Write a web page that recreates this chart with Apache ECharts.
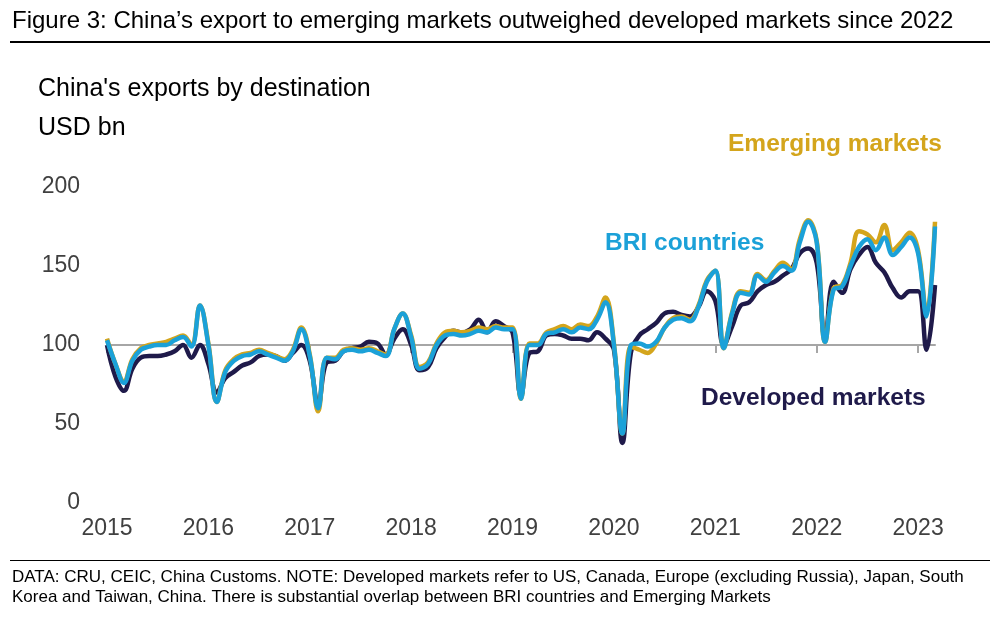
<!DOCTYPE html>
<html>
<head>
<meta charset="utf-8">
<script src="https://cdn.jsdelivr.net/npm/echarts@6/dist/echarts.min.js"></script>
<style>
  html, body { margin: 0; padding: 0; background: #fff; }
  #main { width: 1007px; height: 627px; }
</style>
</head>
<body>
<div id="main"></div>
<script>
// monthly, Jan 2015 .. Mar 2023, USD bn
var years = ['2015', '2016', '2017', '2018', '2019', '2020', '2021', '2022', '2023'];
var emerging = [
  104, 88, 77, 91, 98, 100, 101, 102, 104, 106, 100, 125,
  101, 64, 84, 91, 94, 95, 97, 95, 93, 91, 97, 111,
  94, 58, 92, 92, 97, 98, 97, 98, 96, 94, 110, 120,
  106, 86, 89, 101, 108, 109, 108, 109, 111, 110, 112, 111,
  111, 66, 101, 101, 108, 110, 112, 110, 113, 112, 118, 130,
  101, 44, 99, 97, 95, 101, 111, 117, 118, 116, 125, 141,
  147, 98, 121, 134, 133, 145, 141, 147, 152, 148, 167, 179,
  166, 102, 136, 138, 152, 172, 170, 165, 176, 160, 165, 171,
  160, 120, 178
];
var bri = [
  103, 88, 76, 90, 97, 99, 100, 100, 103, 105, 99, 125,
  100, 64, 83, 90, 93, 94, 96, 94, 92, 90, 96, 110,
  93, 60, 92, 91, 96, 97, 96, 97, 95, 93, 110, 120,
  105, 85, 88, 100, 106, 107, 106, 107, 109, 108, 111, 110,
  110, 66, 100, 100, 107, 108, 110, 108, 111, 110, 116, 127,
  100, 44, 100, 101, 99, 102, 111, 116, 117, 115, 124, 140,
  147, 98, 120, 133, 132, 144, 140, 146, 150, 147, 165, 178,
  165, 102, 135, 137, 150, 162, 167, 160, 168, 157, 162, 168,
  158, 118, 175
];
var developed = [
  100, 80, 71, 85, 92, 93, 93, 94, 96, 100, 92, 100,
  88, 70, 79, 83, 87, 89, 93, 94, 93, 90, 95, 100,
  90, 62, 89, 90, 96, 98, 99, 102, 101, 94, 104, 110,
  100, 84, 86, 98, 105, 109, 108, 110, 116, 108, 115, 112,
  108, 68, 95, 96, 106, 107, 106, 104, 104, 103, 108, 104,
  97, 38, 95, 106, 110, 114, 120, 121, 119, 118, 124, 134,
  128, 100, 112, 125, 127, 134, 138, 140, 144, 148, 158, 161,
  152, 104, 140, 133, 148, 157, 162, 152, 146, 136, 130, 134,
  134, 97, 138
];
var yTicks = [0, 50, 100, 150, 200];

var months = [];
for (var i = 0; i < bri.length; i++) {
  months.push(years[Math.floor(i / 12)] + '-' + (i % 12 + 1));
}

var font = 'Liberation Sans, Arial, sans-serif';
var chart = echarts.init(document.getElementById('main'));

function line(name, data, color, z) {
  return {
    name: name, type: 'line', data: data, smooth: 0.4, symbol: 'none', z: z,
    lineStyle: { color: color, width: 4.5 }
  };
}

chart.setOption({
  animation: false,
  textStyle: { fontFamily: font },
  grid: { left: 107, right: 72, top: 187, bottom: 124 },
  xAxis: [
    {
      type: 'category', data: months, boundaryGap: false,
      axisLine: { show: false }, axisTick: { show: false },
      axisLabel: {
        interval: function (i) { return i % 12 === 0; },
        formatter: function (v) { return v.split('-')[0]; },
        color: '#404040', fontSize: 23, margin: 14
      }
    },
    {
      type: 'category', data: months, boundaryGap: false, position: 'bottom', offset: -158,
      axisLine: { lineStyle: { color: '#a6a6a6', width: 2 } },
      axisTick: { interval: function (i) { return i % 12 === 0; }, length: 8, lineStyle: { color: '#a6a6a6', width: 2 } },
      axisLabel: { show: false }
    }
  ],
  yAxis: {
    type: 'value', min: yTicks[0], max: yTicks[yTicks.length - 1], interval: 50,
    axisLine: { show: false }, axisTick: { show: false }, splitLine: { show: false },
    axisLabel: { color: '#404040', fontSize: 23, margin: 27 }
  },
  series: [
    line('Developed markets', developed, '#1f1a4a', 2),
    line('Emerging markets', emerging, '#d4a51c', 3),
    line('BRI countries', bri, '#1ba1d8', 4)
  ],
  graphic: [
    { type: 'text', left: 12, top: 9, style: { text: 'Figure 3: China\u2019s export to emerging markets outweighed developed markets since 2022', font: '24px ' + font, fill: '#000' } },
    { type: 'rect', shape: { x: 10, y: 41, width: 980, height: 2 }, style: { fill: '#000' } },
    { type: 'text', left: 38, top: 77, style: { text: "China's exports by destination", font: '25px ' + font, fill: '#000' } },
    { type: 'text', left: 38, top: 116, style: { text: 'USD bn', font: '25px ' + font, fill: '#000' } },
    { type: 'text', left: 728, top: 132, style: { text: 'Emerging markets', font: 'bold 24.5px ' + font, fill: '#d4a51c' } },
    { type: 'text', left: 605, top: 231, style: { text: 'BRI countries', font: 'bold 24.5px ' + font, fill: '#1ba1d8' } },
    { type: 'text', left: 701, top: 386, style: { text: 'Developed markets', font: 'bold 24.5px ' + font, fill: '#1f1a4a' } },
    { type: 'rect', shape: { x: 10, y: 560, width: 980, height: 1 }, style: { fill: '#000' } },
    { type: 'text', left: 12, top: 567, style: { text: 'DATA: CRU, CEIC, China Customs. NOTE: Developed markets refer to US, Canada, Europe (excluding Russia), Japan, South\nKorea and Taiwan, China. There is substantial overlap between BRI countries and Emerging Markets', font: '17px ' + font, fill: '#000', lineHeight: 20 } }
  ]
});
</script>
</body>
</html>
